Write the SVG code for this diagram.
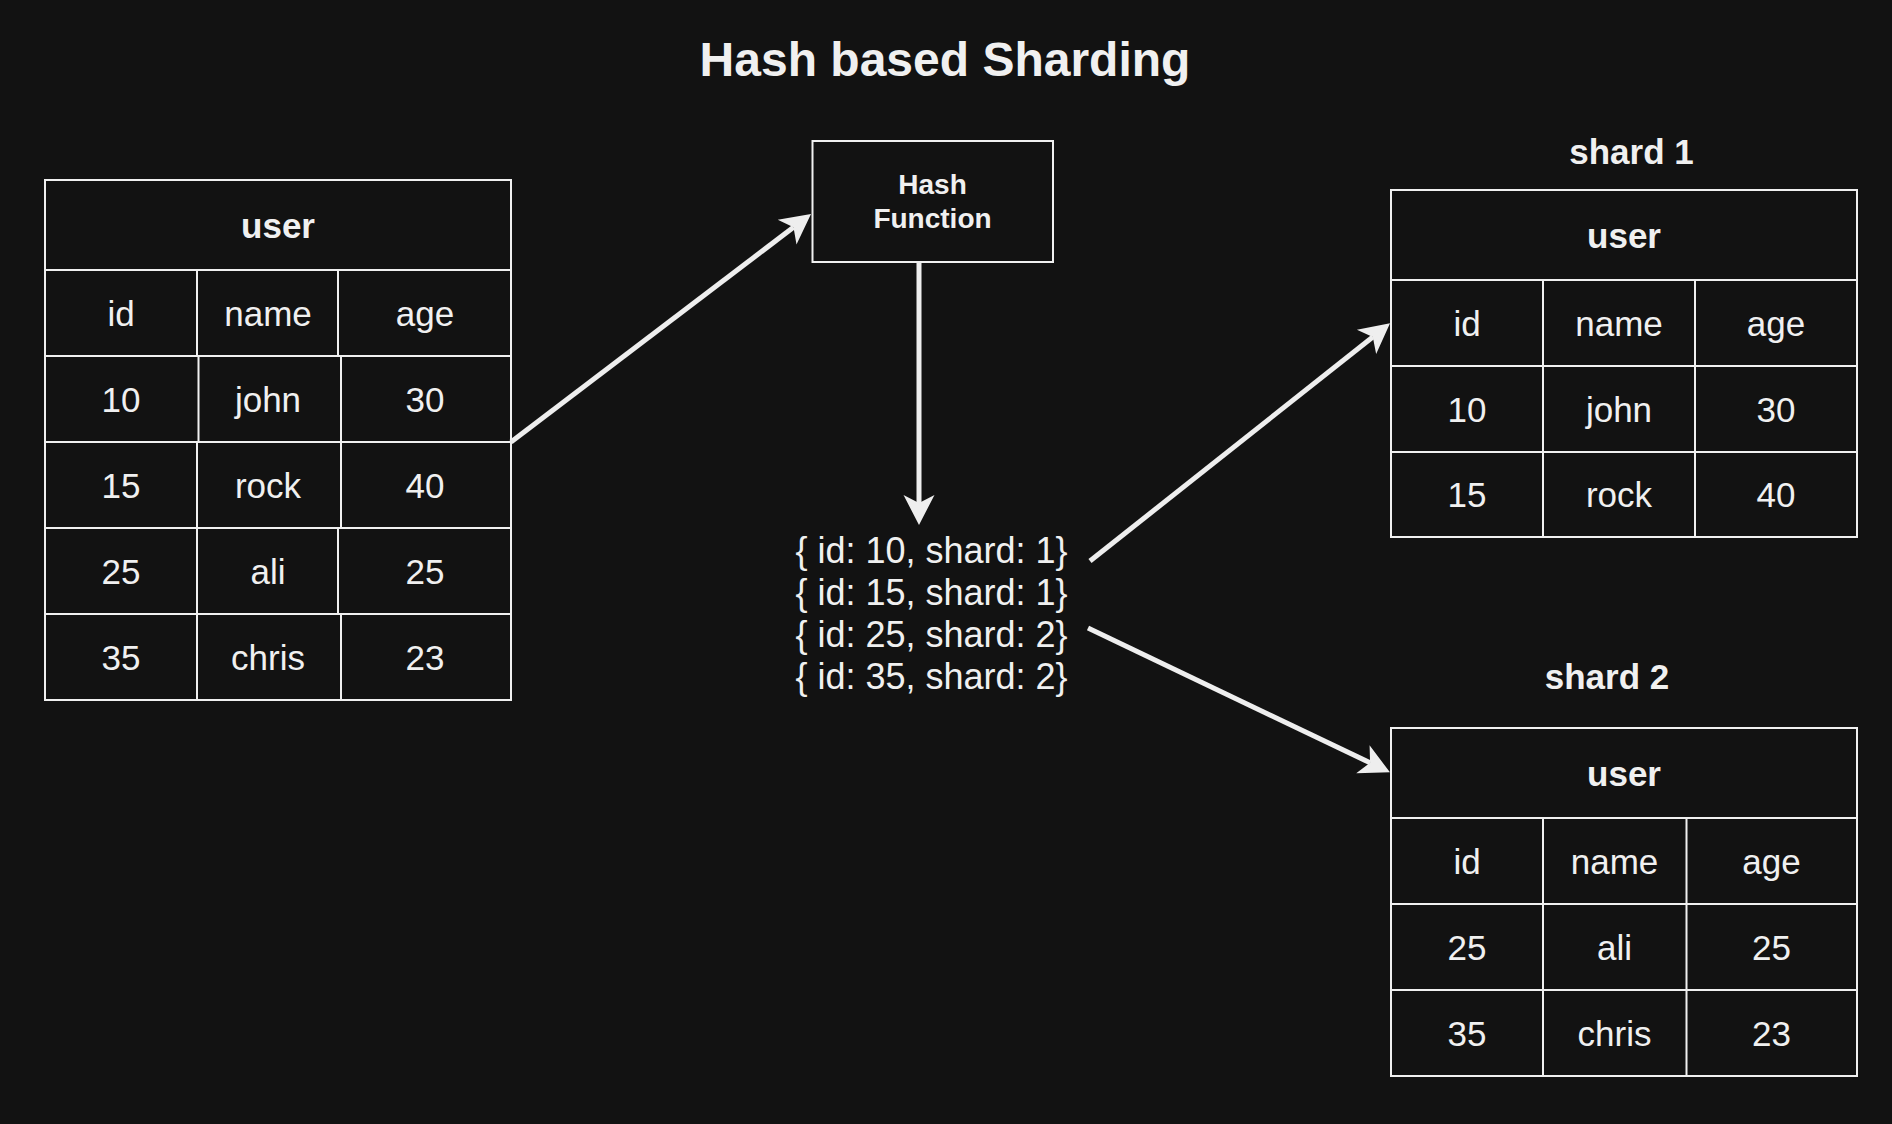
<svg xmlns="http://www.w3.org/2000/svg" width="1892" height="1124" viewBox="0 0 1892 1124">
  <style>
    .bg { fill: #121212; }
    .cell { fill: #121212; stroke: #f0f0f0; stroke-width: 2; }
    .ln { stroke: #f0f0f0; stroke-width: 2; fill: none; }
    .t { font-family: "Liberation Sans", Arial, Helvetica, sans-serif; fill: #f0f0f0; text-anchor: middle; }
    .v { font-size: 35px; }
    .b { font-weight: bold; }
    .conn { stroke: #eeeeee; stroke-width: 5; fill: none; }
  </style>
  <defs>
    <marker id="arrow" markerUnits="userSpaceOnUse" orient="auto" markerWidth="40" markerHeight="40" refX="0" refY="0" viewBox="-10 -20 40 40" overflow="visible">
      <path d="M22,0 L-8,-15.5 L0,0 L-8,15.5 Z" fill="#eeeeee"/>
    </marker>
  </defs>
  <rect class="bg" x="0" y="0" width="1892" height="1124"/>

  <g id="title">
    <text class="t b" x="945" y="76" font-size="48">Hash based Sharding</text>
  </g>

  <g id="table-user">
    <rect class="cell" x="45" y="180" width="466" height="520"/>
    <line class="ln" x1="45" y1="270" x2="511" y2="270"/>
    <line class="ln" x1="45" y1="356" x2="511" y2="356"/>
    <line class="ln" x1="45" y1="442" x2="511" y2="442"/>
    <line class="ln" x1="45" y1="528" x2="511" y2="528"/>
    <line class="ln" x1="45" y1="614" x2="511" y2="614"/>
    <line class="ln" x1="197" y1="270" x2="197" y2="356"/>
    <line class="ln" x1="338" y1="270" x2="338" y2="356"/>
    <line class="ln" x1="198.5" y1="356" x2="198.5" y2="442"/>
    <line class="ln" x1="341" y1="356" x2="341" y2="442"/>
    <line class="ln" x1="197" y1="442" x2="197" y2="528"/>
    <line class="ln" x1="341" y1="442" x2="341" y2="528"/>
    <line class="ln" x1="197" y1="528" x2="197" y2="614"/>
    <line class="ln" x1="338" y1="528" x2="338" y2="614"/>
    <line class="ln" x1="197" y1="614" x2="197" y2="700"/>
    <line class="ln" x1="341" y1="614" x2="341" y2="700"/>
    <text class="t v b" x="278" y="237.5">user</text>
    <text class="t v" x="121" y="325.5">id</text>
    <text class="t v" x="268" y="325.5">name</text>
    <text class="t v" x="425" y="325.5">age</text>
    <text class="t v" x="121" y="411.5">10</text>
    <text class="t v" x="268" y="411.5">john</text>
    <text class="t v" x="425" y="411.5">30</text>
    <text class="t v" x="121" y="497.5">15</text>
    <text class="t v" x="268" y="497.5">rock</text>
    <text class="t v" x="425" y="497.5">40</text>
    <text class="t v" x="121" y="583.5">25</text>
    <text class="t v" x="268" y="583.5">ali</text>
    <text class="t v" x="425" y="583.5">25</text>
    <text class="t v" x="121" y="669.5">35</text>
    <text class="t v" x="268" y="669.5">chris</text>
    <text class="t v" x="425" y="669.5">23</text>
  </g>

  <g id="hash-function">
    <rect class="cell" x="812.5" y="141" width="240.5" height="121"/>
    <text class="t b" x="932.5" y="194" font-size="28">Hash</text>
    <text class="t b" x="932.5" y="228" font-size="28">Function</text>
  </g>

  <g id="hash-results">
    <text class="t" x="931.5" y="563" font-size="36">{ id: 10, shard: 1}</text>
    <text class="t" x="931.5" y="605" font-size="36">{ id: 15, shard: 1}</text>
    <text class="t" x="931.5" y="647" font-size="36">{ id: 25, shard: 2}</text>
    <text class="t" x="931.5" y="689" font-size="36">{ id: 35, shard: 2}</text>
  </g>

  <g id="shard-1">
    <text class="t v b" x="1631.5" y="163.5">shard 1</text>
    <rect class="cell" x="1391" y="190" width="466" height="347"/>
    <line class="ln" x1="1391" y1="280" x2="1857" y2="280"/>
    <line class="ln" x1="1391" y1="366" x2="1857" y2="366"/>
    <line class="ln" x1="1391" y1="452" x2="1857" y2="452"/>
    <line class="ln" x1="1543" y1="280" x2="1543" y2="537"/>
    <line class="ln" x1="1695" y1="280" x2="1695" y2="537"/>
    <text class="t v b" x="1624" y="247.5">user</text>
    <text class="t v" x="1467" y="335.5">id</text>
    <text class="t v" x="1619" y="335.5">name</text>
    <text class="t v" x="1776" y="335.5">age</text>
    <text class="t v" x="1467" y="421.5">10</text>
    <text class="t v" x="1619" y="421.5">john</text>
    <text class="t v" x="1776" y="421.5">30</text>
    <text class="t v" x="1467" y="507">15</text>
    <text class="t v" x="1619" y="507">rock</text>
    <text class="t v" x="1776" y="507">40</text>
  </g>

  <g id="shard-2">
    <text class="t v b" x="1607" y="689">shard 2</text>
    <rect class="cell" x="1391" y="728" width="466" height="348"/>
    <line class="ln" x1="1391" y1="818" x2="1857" y2="818"/>
    <line class="ln" x1="1391" y1="904" x2="1857" y2="904"/>
    <line class="ln" x1="1391" y1="990" x2="1857" y2="990"/>
    <line class="ln" x1="1543" y1="818" x2="1543" y2="1076"/>
    <line class="ln" x1="1686.5" y1="818" x2="1686.5" y2="1076"/>
    <text class="t v b" x="1624" y="785.5">user</text>
    <text class="t v" x="1467" y="873.5">id</text>
    <text class="t v" x="1614.5" y="873.5">name</text>
    <text class="t v" x="1771.5" y="873.5">age</text>
    <text class="t v" x="1467" y="959.5">25</text>
    <text class="t v" x="1614.5" y="959.5">ali</text>
    <text class="t v" x="1771.5" y="959.5">25</text>
    <text class="t v" x="1467" y="1045.5">35</text>
    <text class="t v" x="1614.5" y="1045.5">chris</text>
    <text class="t v" x="1771.5" y="1045.5">23</text>
  </g>

  <g id="connectors">
    <line class="conn" x1="511" y1="442" x2="793.5" y2="227.3" marker-end="url(#arrow)"/>
    <line class="conn" x1="919" y1="262" x2="919" y2="503" marker-end="url(#arrow)"/>
    <line class="conn" x1="1090" y1="561" x2="1372.8" y2="337" marker-end="url(#arrow)"/>
    <line class="conn" x1="1088" y1="628" x2="1370.1" y2="762.8" marker-end="url(#arrow)"/>
  </g>
</svg>
